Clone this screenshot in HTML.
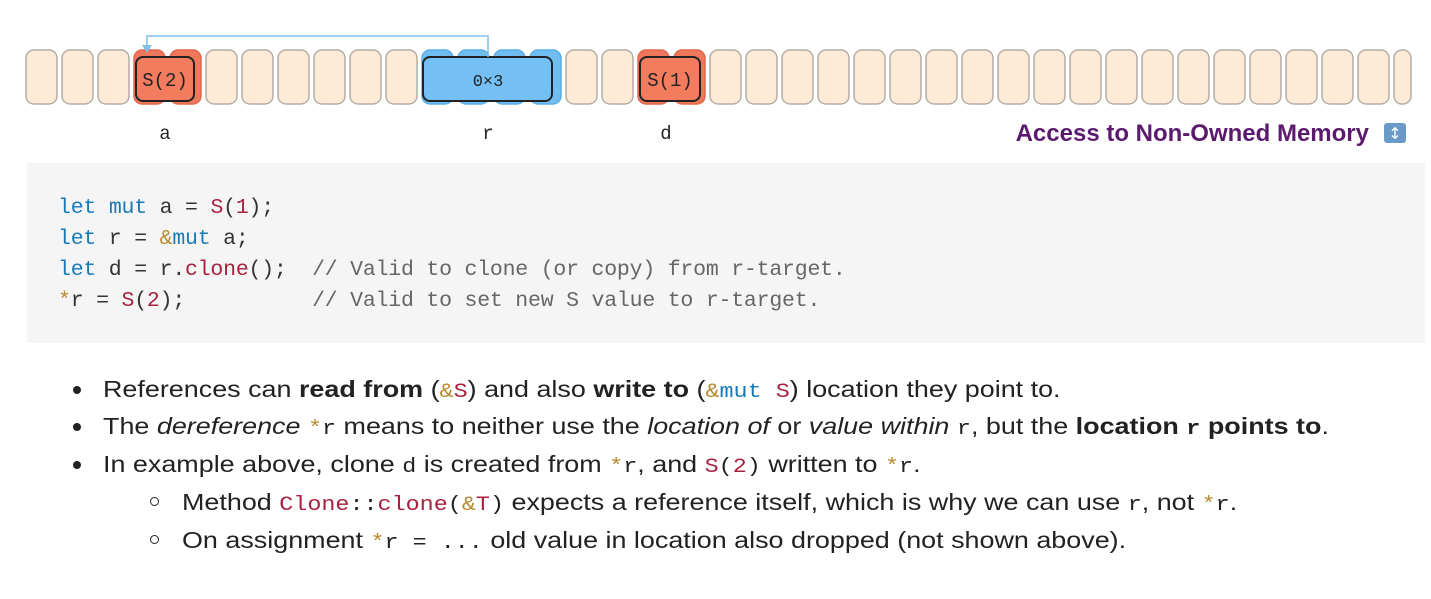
<!DOCTYPE html>
<html><head><meta charset="utf-8"><style>
body{margin:0;width:1431px;height:599px;background:#fff;overflow:hidden;position:relative;font-family:"Liberation Sans",sans-serif}
.code{position:absolute;left:27px;top:163px;width:1398px;height:180px;background:#f5f5f5}
.cl{position:absolute;left:58px;font-size:21.5px;white-space:pre;color:#333;font-family:"Liberation Mono",monospace;letter-spacing:-0.2px}
.k{color:#1a7ab8}.r{color:#a8213e}.o{color:#b8892e}.c{color:#666}
.b{position:absolute;left:103px;font-size:23px;white-space:nowrap;color:#222;transform:scaleX(1.17);transform-origin:0 0}
.b2{left:182px}
.dot{position:absolute;left:73px;width:8px;height:8px;border-radius:50%;background:#222}
.cir{position:absolute;left:150px;width:7px;height:7px;border-radius:50%;border:1.5px solid #222}
.ic{font-family:"Liberation Mono",monospace;font-size:20px}
</style></head><body>
<svg width="1431" height="160" style="position:absolute;left:0;top:0">
<g fill="#fdebd8" stroke="#b5aca4" stroke-width="1.5">
<rect x="26" y="50" width="31" height="54" rx="8"/><rect x="62" y="50" width="31" height="54" rx="8"/><rect x="98" y="50" width="31" height="54" rx="8"/>
<rect x="206" y="50" width="31" height="54" rx="8"/><rect x="242" y="50" width="31" height="54" rx="8"/><rect x="278" y="50" width="31" height="54" rx="8"/><rect x="314" y="50" width="31" height="54" rx="8"/><rect x="350" y="50" width="31" height="54" rx="8"/><rect x="386" y="50" width="31" height="54" rx="8"/>
<rect x="566" y="50" width="31" height="54" rx="8"/><rect x="602" y="50" width="31" height="54" rx="8"/>
<rect x="710" y="50" width="31" height="54" rx="8"/><rect x="746" y="50" width="31" height="54" rx="8"/><rect x="782" y="50" width="31" height="54" rx="8"/><rect x="818" y="50" width="31" height="54" rx="8"/><rect x="854" y="50" width="31" height="54" rx="8"/><rect x="890" y="50" width="31" height="54" rx="8"/><rect x="926" y="50" width="31" height="54" rx="8"/><rect x="962" y="50" width="31" height="54" rx="8"/><rect x="998" y="50" width="31" height="54" rx="8"/><rect x="1034" y="50" width="31" height="54" rx="8"/><rect x="1070" y="50" width="31" height="54" rx="8"/><rect x="1106" y="50" width="31" height="54" rx="8"/><rect x="1142" y="50" width="31" height="54" rx="8"/><rect x="1178" y="50" width="31" height="54" rx="8"/><rect x="1214" y="50" width="31" height="54" rx="8"/><rect x="1250" y="50" width="31" height="54" rx="8"/><rect x="1286" y="50" width="31" height="54" rx="8"/><rect x="1322" y="50" width="31" height="54" rx="8"/><rect x="1358" y="50" width="31" height="54" rx="8"/><rect x="1394" y="50" width="17" height="54" rx="8"/>
</g>
<g fill="#f0785a" stroke="#e0694e" stroke-width="1.5">
<rect x="134" y="50" width="31" height="54" rx="8"/><rect x="170" y="50" width="31" height="54" rx="8"/>
<rect x="638" y="50" width="31" height="54" rx="8"/><rect x="674" y="50" width="31" height="54" rx="8"/>
</g>
<g fill="#70bdf0" stroke="#5aaee6" stroke-width="1.5">
<rect x="422" y="50" width="31" height="54" rx="8"/><rect x="458" y="50" width="31" height="54" rx="8"/><rect x="494" y="50" width="31" height="54" rx="8"/><rect x="530" y="50" width="31" height="54" rx="8"/>
</g>
<rect x="136" y="57" width="58" height="44" rx="7" fill="#f37c5f" stroke="#222" stroke-width="2"/>
<text x="165" y="86" font-family="Liberation Mono,monospace" font-size="19" text-anchor="middle" fill="#222">S(2)</text>
<rect x="423" y="57" width="129" height="44" rx="7" fill="#74c0f5" stroke="#222" stroke-width="2"/>
<text x="488" y="86" font-family="Liberation Mono,monospace" font-size="17" text-anchor="middle" fill="#222">0×3</text>
<rect x="640" y="57" width="60" height="44" rx="7" fill="#f37c5f" stroke="#222" stroke-width="2"/>
<text x="670" y="86" font-family="Liberation Mono,monospace" font-size="19" text-anchor="middle" fill="#222">S(1)</text>
<path d="M488 57 V36 H147 V46" fill="none" stroke="#7fbfe8" stroke-width="1.5"/>
<path d="M142 45 L152 45 L147 53 Z" fill="#7fbfe8"/>
<text x="165" y="139" font-family="Liberation Mono,monospace" font-size="19" text-anchor="middle" fill="#222">a</text>
<text x="488" y="139" font-family="Liberation Mono,monospace" font-size="19" text-anchor="middle" fill="#222">r</text>
<text x="666" y="139" font-family="Liberation Mono,monospace" font-size="19" text-anchor="middle" fill="#222">d</text>
<text x="1369" y="141" font-family="Liberation Sans,sans-serif" font-weight="bold" font-size="24" text-anchor="end" fill="#5c1a6e">Access to Non-Owned Memory</text>
<rect x="1384" y="123" width="22" height="20" rx="3" fill="#6a9ac8"/>
<text x="1395" y="139" font-size="16" text-anchor="middle" fill="#fff" font-family="DejaVu Sans">↕</text>
</svg>
<div class="code"></div>
<div class="cl" style="top:196px"><span class="k">let</span> <span class="k">mut</span> a = <span class="r">S</span>(<span class="r">1</span>);</div>
<div class="cl" style="top:227px"><span class="k">let</span> r = <span class="o">&amp;</span><span class="k">mut</span> a;</div>
<div class="cl" style="top:258px"><span class="k">let</span> d = r.<span class="r">clone</span>();  <span class="c">// Valid to clone (or copy) from r-target.</span></div>
<div class="cl" style="top:289px"><span class="o">*</span>r = <span class="r">S</span>(<span class="r">2</span>);          <span class="c">// Valid to set new S value to r-target.</span></div>

<div class="dot" style="top:386px"></div>
<div class="b" style="top:376px">References can <b>read from</b> (<span class="ic"><span class="o">&amp;</span><span class="r">S</span></span>) and also <b>write to</b> (<span class="ic"><span class="o">&amp;</span><span class="k">mut</span> <span class="r">S</span></span>) location they point to.</div>
<div class="dot" style="top:423px"></div>
<div class="b" style="top:413px">The <i>dereference</i> <span class="ic"><span class="o">*</span>r</span> means to neither use the <i>location of</i> or <i>value within</i> <span class="ic">r</span>, but the <b>location <span class="ic">r</span> points to</b>.</div>
<div class="dot" style="top:461px"></div>
<div class="b" style="top:451px">In example above, clone <span class="ic">d</span> is created from <span class="ic"><span class="o">*</span>r</span>, and <span class="ic"><span class="r">S</span>(<span class="r">2</span>)</span> written to <span class="ic"><span class="o">*</span>r</span>.</div>
<div class="cir" style="top:497px"></div>
<div class="b b2" style="top:489px">Method <span class="ic"><span class="r">Clone</span>::<span class="r">clone</span>(<span class="o">&amp;</span><span class="r">T</span>)</span> expects a reference itself, which is why we can use <span class="ic">r</span>, not <span class="ic"><span class="o">*</span>r</span>.</div>
<div class="cir" style="top:535px"></div>
<div class="b b2" style="top:527px">On assignment <span class="ic"><span class="o">*</span>r = ...</span> old value in location also dropped (not shown above).</div>
</body></html>
